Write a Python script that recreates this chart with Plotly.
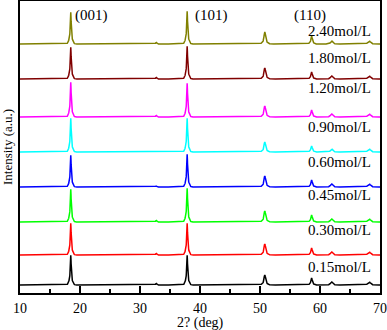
import numpy as np
import plotly.graph_objects as go

# Sample labels (bottom to top) and colours
samples = ["0.15mol/L", "0.30mol/L", "0.45mol/L", "0.60mol/L",
           "0.90mol/L", "1.20mol/L", "1.80mol/L", "2.40mol/L"]
colors = ["#000000", "#ff0000", "#00ff00", "#0000ff",
          "#00ffff", "#ff00ff", "#800000", "#808000"]
# vertical offsets of each pattern (a.u.)
offsets = [8, 38, 71, 106, 141, 176, 214, 249]

# Reflection positions (2theta, deg) and their widths
peak_pos = [18.45, 32.7, 37.85, 50.8, 58.6, 61.95, 68.2]
peak_sharp = [0.07, 0.08, 0.07, 0.12, 0.10, 0.15, 0.18]
peak_base = [0.25, 0.2, 0.25, 0.35, 0.3, 0.35, 0.4]

# Peak heights per sample (a.u.), same order as peak_pos
heights_015 = [30, 1.5, 30, 10, 7, 3, 3]
heights_030 = [32, 1.5, 32, 11, 7, 3, 3]
heights_045 = [33, 1.5, 34, 11, 7, 3, 3]
heights_060 = [32, 1.0, 33, 11, 7, 3, 3]
heights_090 = [34, 0.5, 34, 10, 6, 3, 3]
heights_120 = [35, 1.5, 34, 11, 7, 3, 3]
heights_180 = [32, 1.5, 33, 11, 7, 3, 3]
heights_240 = [32, 1.5, 33, 12, 8, 3, 3]
heights = [heights_015, heights_030, heights_045, heights_060,
           heights_090, heights_120, heights_180, heights_240]

# Miller-index labels
hkl_labels = ["(001)", "(101)", "(110)"]
hkl_x = [18.8, 38.8, 55.4]
hkl_y = [278, 278, 278]

label_y = [26, 63, 98, 131, 166, 205, 235, 262]

x = np.arange(10, 70.0001, 0.02)


def profile(h):
    y = np.zeros_like(x)
    for p, hs, s1, s2 in zip(peak_pos, h, peak_sharp, peak_base):
        y += hs * (0.72 * np.exp(-0.5 * ((x - p) / s1) ** 2)
                   + 0.28 * np.exp(-0.5 * ((x - p) / s2) ** 2))
    return y


fig = go.Figure()
for name, col, off, h in zip(samples, colors, offsets, heights):
    fig.add_trace(go.Scatter(x=x, y=profile(h) + off, mode="lines",
                             line=dict(color=col, width=1.5), name=name,
                             showlegend=False))

font = dict(family="Liberation Serif, Times New Roman, serif", color="black")
for name, yy in zip(samples, label_y):
    fig.add_annotation(x=68.9, y=yy, text=name, showarrow=False, xanchor="right",
                       yanchor="middle", font=dict(size=15, **font))
for t, xx, yy in zip(hkl_labels, hkl_x, hkl_y):
    fig.add_annotation(x=xx, y=yy, text=t, showarrow=False, xanchor="left",
                       yanchor="middle", font=dict(size=15, **font))

# axis titles as annotations (exact placement)
fig.add_annotation(xref="paper", yref="paper", x=0.5, y=-0.104, text="2? (deg)",
                   showarrow=False, xanchor="center", yanchor="middle",
                   font=dict(size=14, **font))
fig.add_annotation(xref="paper", yref="paper", x=-0.036, y=0.5, text="Intensity (a.u.)",
                   showarrow=False, xanchor="center", yanchor="middle", textangle=-90,
                   font=dict(size=13, **font))

fig.update_layout(
    width=387, height=330,
    margin=dict(l=20, r=7, t=1, b=37),
    paper_bgcolor="white", plot_bgcolor="white",
    font=dict(size=14, **font),
    xaxis=dict(range=[10, 70], tickvals=[10, 20, 30, 40, 50, 60, 70],
               ticks="inside", ticklen=7, tickwidth=1.5, tickcolor="black",
               minor=dict(tickvals=[15, 25, 35, 45, 55, 65], ticks="inside",
                          ticklen=4, tickwidth=1.5, tickcolor="black"),
               showline=True, linecolor="black", linewidth=1.5, mirror=True,
               showgrid=False, zeroline=False, automargin=False,
               ticklabelstandoff=1,
               tickfont=dict(size=14, **font)),
    yaxis=dict(range=[0, 292], showticklabels=False, ticks="",
               showline=True, linecolor="black", linewidth=1.5, mirror=True,
               showgrid=False, zeroline=False, automargin=False),
)

fig.write_html("out.html", config={"displayModeBar": False},
               post_script="document.body.style.margin='0';document.body.style.overflow='hidden';")
